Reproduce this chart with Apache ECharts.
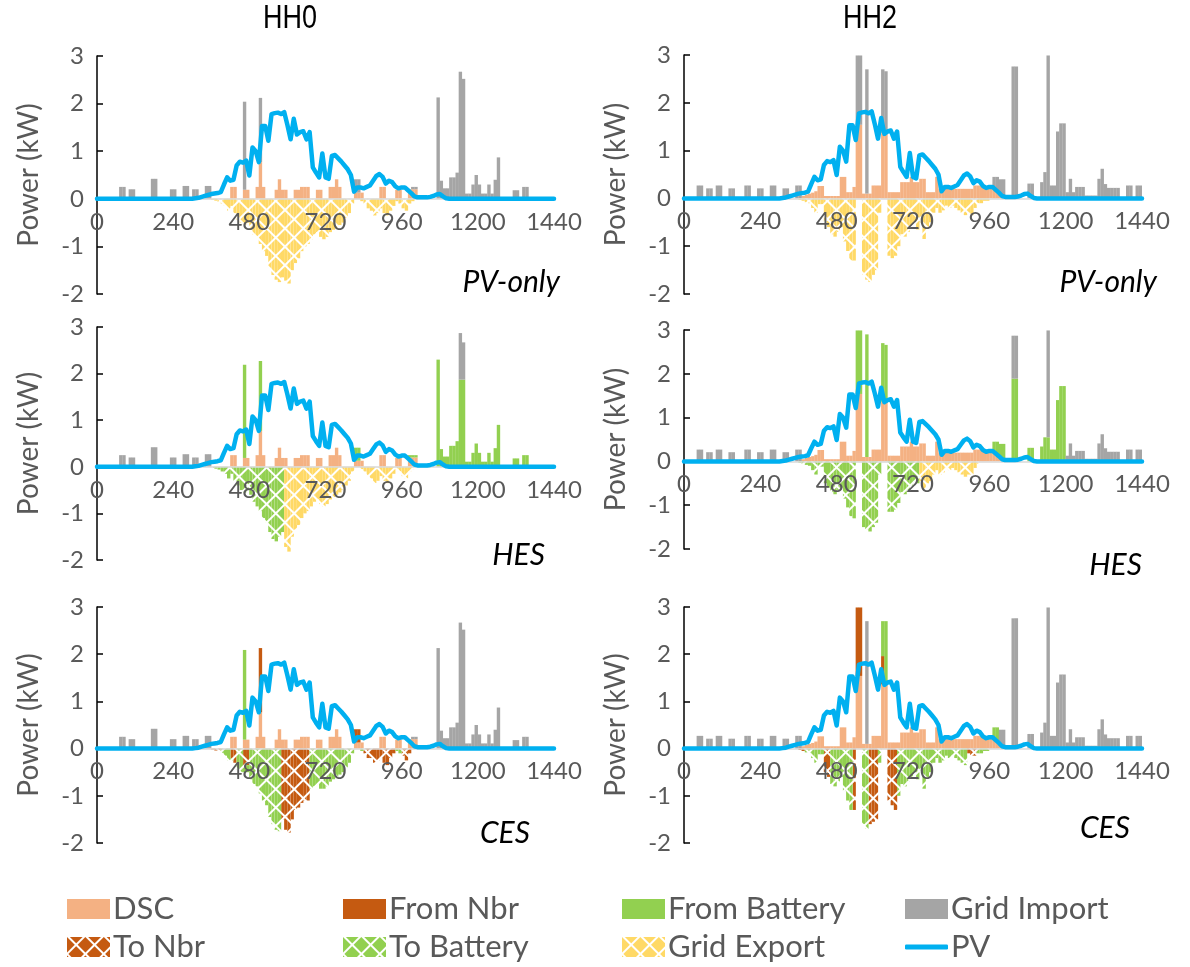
<!DOCTYPE html>
<html>
<head>
<meta charset="utf-8">
<script src="https://cdn.jsdelivr.net/npm/echarts@6/dist/echarts.min.js"></script>
<style>
html,body{margin:0;padding:0;background:#fff;}
#chart{width:1190px;height:967px;}
</style>
</head>
<body>
<div id="chart"></div>
<script>
// ---------------- DATA (minutes of day, kW) ----------------
const COLUMN_TITLES = ['HH0', 'HH2'];
const ROW_TAGS = ['PV-only', 'HES', 'CES'];
const SERIES_NAMES = ['DSC', 'From Nbr', 'From Battery', 'Grid Import', 'To Nbr', 'To Battery', 'Grid Export'];

// PV generation profile [minute, kW]
const PV = [[0,0],[300,0],[310,.01],[320,.02],[330,.04],[340,.06],[350,.08],[360,.10],[370,.11],[380,.12],[390,.14],[400,.30],[410,.45],[420,.38],[430,.40],[440,.70],[450,.78],[460,.76],[470,.80],[480,.49],[490,1.08],[500,1.0],[510,.77],[520,1.53],[530,1.53],[540,1.22],[550,1.78],[560,1.80],[570,1.81],[580,1.78],[590,1.82],[600,1.55],[610,1.25],[620,1.68],[630,1.35],[640,1.40],[650,1.42],[660,1.25],[670,1.40],[680,.66],[690,.55],[700,.45],[710,.95],[720,.45],[730,.42],[740,.90],[750,.92],[760,.85],[770,.78],[780,.70],[790,.62],[800,.50],[810,.15],[820,.24],[830,.24],[840,.22],[850,.25],[860,.28],[870,.38],[880,.48],[890,.52],[900,.46],[910,.32],[920,.38],[930,.35],[940,.26],[950,.22],[960,.24],[970,.24],[980,.18],[990,.12],[1000,.05],[1010,.03],[1020,.03],[1030,.03],[1040,.03],[1050,.04],[1060,.06],[1070,.09],[1080,.10],[1090,.05],[1100,.01],[1110,0],[1440,0]];

// Bars: [start minute of 10-min interval, kW]
// ---- HH0 ----
const HH0_DSC = [[420,.25],[430,.25],[460,.19],[470,.19],[500,.25],[510,.77],[520,.25],[560,.19],[570,.41],[580,.19],[590,.19],[620,.19],[630,.19],[640,.25],[650,.25],[660,.25],[690,.19],[700,.19],[730,.25],[740,.25],[750,.41],[760,.25],[810,.13],[820,.13],[830,.13],[890,.25],[900,.25],[940,.19],[950,.19],[980,.2],[990,.2],[1000,.2]];
const HH0_IMP_AM = [[70,.25],[80,.25],[100,.2],[110,.2],[170,.42],[180,.42],[230,.2],[240,.2],[270,.27],[280,.27],[300,.2],[310,.2],[340,.27],[350,.27]];
const HH0_IMP_PM = [[1070,2.13],[1080,.38],[1090,.22],[1100,.22],[1110,.45],[1120,.45],[1130,.55],[1140,2.67],[1150,2.52],[1160,.11],[1170,.11],[1180,.3],[1190,.5],[1200,.3],[1210,.11],[1220,.11],[1230,.3],[1240,.11],[1250,.4],[1260,.87],[1310,.18],[1320,.18],[1340,.25],[1350,.25]];
const HH0_IMP_MID = [[460,1.85],[510,1.35],[810,.28],[820,.28],[990,.05],[1000,.05]];
const HH0_EXP_PV = [[360,-.02],[370,-.04],[380,-.06],[390,-.1],[400,-.15],[410,-.25],[420,-.15],[430,-.3],[440,-.45],[450,-.5],[460,-.55],[470,-.5],[480,-.65],[490,-.75],[500,-.8],[510,-.95],[520,-1.1],[530,-1.2],[540,-1.45],[550,-1.6],[560,-1.7],[570,-1.75],[580,-1.65],[590,-1.72],[600,-1.78],[610,-1.5],[620,-1.35],[630,-1.25],[640,-1.1],[650,-1.0],[660,-.95],[670,-.85],[680,-.75],[690,-.7],[700,-.8],[710,-.85],[720,-.8],[730,-.7],[740,-.65],[750,-.6],[760,-.55],[770,-.5],[780,-.4],[790,-.3],[800,-.1],[830,-.05],[840,-.1],[850,-.2],[860,-.25],[870,-.35],[880,-.3],[890,-.2],[900,-.3],[910,-.35],[920,-.25],[930,-.15],[940,-.05],[950,-.1],[960,-.2],[970,-.25],[980,-.1],[990,-.05]];
const HH0_FB_HES = [[460,2.0],[510,1.5],[810,.28],[820,.28],[980,.05],[990,.05],[1000,.05],[1070,2.3],[1080,.38],[1090,.22],[1100,.22],[1110,.45],[1120,.45],[1130,.55],[1140,1.87],[1150,1.87],[1160,.11],[1170,.11],[1180,.3],[1190,.5],[1200,.3],[1210,.11],[1220,.11],[1230,.3],[1240,.11],[1250,.4],[1260,.9],[1310,.18],[1320,.18],[1340,.25],[1350,.25]];
const HH0_IMP_HES_PM = [[1140,1.0],[1150,.8]];
const HH0_TB_HES = [[360,-.02],[370,-.04],[380,-.06],[390,-.1],[400,-.15],[410,-.25],[420,-.15],[430,-.3],[440,-.4],[450,-.5],[460,-.55],[470,-.5],[480,-.6],[490,-.75],[500,-.85],[510,-.95],[520,-1.1],[530,-1.2],[540,-1.4],[550,-1.55],[560,-1.6],[570,-1.5],[580,-1.4]];
const HH0_EXP_HES = [[590,-1.72],[600,-1.82],[610,-1.5],[620,-1.35],[630,-1.25],[640,-1.1],[650,-1.0],[660,-.95],[670,-.85],[680,-.75],[690,-.7],[700,-.8],[710,-.85],[720,-.8],[730,-.7],[740,-.65],[750,-.6],[760,-.55],[770,-.5],[780,-.4],[790,-.3],[800,-.1],[830,-.05],[840,-.1],[850,-.2],[860,-.25],[870,-.35],[880,-.3],[890,-.2],[900,-.3],[910,-.35],[920,-.25],[930,-.15],[940,-.05],[950,-.1],[960,-.2],[970,-.25],[980,-.1],[990,-.05]];
const HH0_FN_CES = [[510,1.36],[810,.28],[820,.28]];
const HH0_FB_CES = [[460,1.9]];
const HH0_IMP_CES_MID = [[990,.05],[1000,.05]];
const HH0_TN_CES = [[360,-.02],[370,-.04],[380,-.04],[420,-.2],[430,-.3],[460,-.4],[470,-.35],[580,-1.5],[590,-1.72],[600,-1.78],[610,-1.5],[620,-1.3],[630,-1.25],[640,-1.15],[650,-1.1],[660,-1.1],[840,-.1],[850,-.2],[860,-.2],[870,-.3],[880,-.25],[890,-.2],[900,-.3],[910,-.35],[920,-.2],[930,-.1],[960,-.15],[970,-.25],[980,-.1]];
const HH0_TB_CES = [[390,-.1],[400,-.15],[410,-.25],[420,-.05],[440,-.45],[450,-.5],[460,-.1],[470,-.15],[480,-.65],[490,-.75],[500,-.8],[510,-.95],[520,-1.1],[530,-1.2],[540,-1.45],[550,-1.6],[560,-1.72],[570,-1.75],[670,-.85],[680,-.8],[690,-.75],[700,-.85],[710,-.85],[720,-.8],[730,-.7],[740,-.65],[750,-.6],[760,-.55],[770,-.5],[780,-.4],[790,-.3],[800,-.1],[830,-.05],[940,-.05],[950,-.1]];

// ---- HH2 ----
const HH2_DSC = [[370,.05],[380,.08],[390,.1],[400,.12],[410,.15],[420,.26],[430,.26],[440,.05],[450,.05],[460,.05],[470,.05],[480,.05],[490,.45],[500,.45],[510,.13],[520,.13],[530,.24],[540,1.54],[550,1.54],[560,.1],[570,.1],[580,.1],[590,.27],[600,.27],[610,.27],[620,1.36],[630,1.36],[640,.13],[650,.13],[660,.13],[670,.13],[680,.34],[690,.34],[700,.34],[710,.45],[720,.34],[730,.34],[740,.41],[750,.41],[760,.13],[770,.13],[780,.13],[790,.45],[800,.2],[810,.2],[820,.2],[830,.2],[840,.2],[850,.2],[860,.2],[870,.2],[880,.2],[890,.2],[900,.2],[910,.27],[920,.27],[930,.27],[940,.25],[950,.25],[960,.22],[970,.2],[980,.15],[990,.1]];
const HH2_IMP_AM = [[40,.27],[50,.27],[70,.21],[80,.21],[100,.27],[110,.27],[140,.21],[150,.21],[190,.27],[200,.27],[230,.21],[240,.21],[270,.27],[280,.27],[310,.21],[320,.21],[350,.27],[360,.27]];
const HH2_IMP_EVE = [[1080,.31],[1090,.31],[1120,.34],[1130,.55],[1140,2.99],[1150,.27],[1160,.27],[1170,1.4],[1180,1.57],[1190,1.57]];
const HH2_IMP_LATE = [[1200,.13],[1210,.41],[1220,.13],[1230,.24],[1240,.24],[1250,.24],[1260,.06],[1270,.06],[1280,.06],[1290,.06],[1300,.41],[1310,.62],[1320,.3],[1330,.22],[1340,.22],[1350,.22],[1360,.22],[1390,.27],[1400,.27],[1420,.27],[1430,.27]];
const HH2_IMP_PV_MID = [[540,1.45],[550,1.45],[570,2.6],[620,1.34],[630,1.3],[970,.25],[980,.3],[990,.3],[1000,.4],[1030,2.76],[1040,2.76]];
const HH2_EXP_PV = [[360,-.03],[370,-.05],[380,-.08],[390,-.1],[400,-.2],[410,-.3],[420,-.12],[430,-.12],[440,-.5],[450,-.6],[460,-.75],[470,-.8],[480,-.7],[490,-.6],[500,-.9],[510,-1.1],[520,-1.3],[530,-1.3],[560,-1.6],[570,-1.7],[580,-1.75],[590,-1.6],[600,-1.5],[610,-.3],[640,-1.2],[650,-1.25],[660,-1.2],[670,-1.0],[680,-.75],[690,-.8],[700,-.7],[710,-.6],[720,-.5],[730,-.65],[740,-.5],[750,-.85],[760,-.6],[770,-.5],[780,-.3],[790,-.2],[800,-.3],[810,-.25],[820,-.15],[830,-.2],[840,-.15],[850,-.2],[860,-.25],[870,-.3],[880,-.35],[890,-.3],[900,-.35],[910,-.2],[920,-.1],[930,-.1],[940,-.05],[950,-.05],[960,-.02]];
const HH2_FB_HES = [[540,1.45],[550,1.45],[570,2.8],[620,1.34],[630,1.3],[970,.25],[980,.3],[990,.3],[1000,.4],[1030,1.89],[1040,1.89],[1080,.31],[1090,.31],[1120,.34],[1130,.55],[1140,.55],[1150,.27],[1160,.27],[1170,1.4],[1180,1.72],[1190,1.72]];
const HH2_IMP_HES_MID = [[1030,.98],[1040,.98],[1140,2.44]];
const HH2_TB_HES = [[360,-.03],[370,-.05],[380,-.08],[390,-.1],[400,-.2],[410,-.3],[420,-.12],[430,-.12],[440,-.5],[450,-.6],[460,-.7],[470,-.75],[480,-.65],[490,-.6],[500,-.85],[510,-1.05],[520,-1.25],[530,-1.3],[560,-1.5],[570,-1.55],[580,-1.6],[590,-1.5],[600,-1.4],[610,-.3],[640,-1.15],[650,-1.15],[660,-1.1],[670,-.95],[680,-.7],[690,-.75],[700,-.65],[710,-.55],[720,-.45],[730,-.5]];
const HH2_EXP_HES = [[740,-.45],[750,-.65],[760,-.5],[770,-.45],[780,-.3],[790,-.2],[800,-.3],[810,-.25],[820,-.15],[830,-.2],[840,-.15],[850,-.2],[860,-.25],[870,-.3],[880,-.35],[890,-.3],[900,-.3],[910,-.15],[920,-.05]];
const HH2_FN_CES = [[540,1.45],[550,1.45],[620,.6]];
const HH2_FB_CES = [[620,.74],[630,1.34],[970,.25],[980,.3]];
const HH2_IMP_CES_MID = [[570,2.6],[990,.3],[1000,.4],[1030,2.76],[1040,2.76]];
const HH2_TN_CES = [[360,-.03],[370,-.05],[440,-.5],[450,-.6],[530,-1.3],[580,-1.6],[590,-1.55],[600,-1.5],[640,-1.1],[650,-1.2],[660,-1.3],[890,-.1],[900,-.15],[910,-.15]];
const HH2_TB_CES = [[380,-.08],[390,-.1],[400,-.2],[410,-.3],[420,-.12],[430,-.12],[460,-.75],[470,-.8],[480,-.7],[490,-.6],[500,-.9],[510,-1.1],[520,-1.3],[560,-1.6],[570,-1.7],[610,-.3],[670,-1.0],[680,-.75],[690,-.8],[700,-.7],[710,-.6],[720,-.5],[730,-.65],[740,-.5],[750,-.85],[760,-.6],[770,-.5],[780,-.3],[790,-.2],[800,-.3],[810,-.25],[820,-.15],[830,-.2],[840,-.15],[850,-.2],[860,-.25],[870,-.3],[880,-.35],[920,-.1],[930,-.1],[940,-.05],[950,-.05]];

// ---------------- PANELS ----------------
const PANELS = [
  {col:0,row:0,s:{'DSC':HH0_DSC,'Grid Import':[...HH0_IMP_AM,...HH0_IMP_MID,...HH0_IMP_PM],'Grid Export':HH0_EXP_PV}},
  {col:1,row:0,s:{'DSC':HH2_DSC,'Grid Import':[...HH2_IMP_AM,...HH2_IMP_PV_MID,...HH2_IMP_EVE,...HH2_IMP_LATE],'Grid Export':HH2_EXP_PV}},
  {col:0,row:1,s:{'DSC':HH0_DSC,'From Battery':HH0_FB_HES,'Grid Import':[...HH0_IMP_AM,...HH0_IMP_HES_PM],'To Battery':HH0_TB_HES,'Grid Export':HH0_EXP_HES}},
  {col:1,row:1,s:{'DSC':HH2_DSC,'From Battery':HH2_FB_HES,'Grid Import':[...HH2_IMP_AM,...HH2_IMP_HES_MID,...HH2_IMP_LATE],'To Battery':HH2_TB_HES,'Grid Export':HH2_EXP_HES}},
  {col:0,row:2,s:{'DSC':HH0_DSC,'From Nbr':HH0_FN_CES,'From Battery':HH0_FB_CES,'Grid Import':[...HH0_IMP_AM,...HH0_IMP_CES_MID,...HH0_IMP_PM],'To Nbr':HH0_TN_CES,'To Battery':HH0_TB_CES}},
  {col:1,row:2,s:{'DSC':HH2_DSC,'From Nbr':HH2_FN_CES,'From Battery':HH2_FB_CES,'Grid Import':[...HH2_IMP_AM,...HH2_IMP_CES_MID,...HH2_IMP_EVE,...HH2_IMP_LATE],'To Nbr':HH2_TN_CES,'To Battery':HH2_TB_CES}}
];

// ---------------- LAYOUT / STYLE ----------------
const STEP = 10, NBIN = 144, YMIN = -2, YMAX = 3;
const BINS = Array.from({length:NBIN}, (_, i) => String(i*STEP));   // 10-minute bins 0..1430
const COL_X = [{left:97,width:457},{left:684,width:458}];
const ROW_Y = [[{top:56,height:238},{top:55,height:239}],
               [{top:327,height:233},{top:330,height:219}],
               [{top:607,height:236},{top:607,height:236}]];
const TAG_POS = [[[560,282],[1157,282]],[[545,555],[1142,565]],[[530,833],[1130,828]]];
const FONT = 'Lato, "Open Sans", sans-serif';
const GREY_TXT = '#595959';

function hatch(c){
  return {color:'#ffffff', decal:{symbol:'rect', symbolSize:1, color:c,
    dashArrayX:[[11,1.5]], dashArrayY:[11,1.5], rotation:Math.PI/4}};
}
const STYLE = {
  'DSC':{color:'#F4B183'},
  'From Nbr':{color:'#C55A11'},
  'From Battery':{color:'#92D050'},
  'Grid Import':{color:'#A5A5A5'},
  'To Nbr':hatch('#C55A11'),
  'To Battery':hatch('#92D050'),
  'Grid Export':hatch('#FFD966')
};

function dense(pairs){
  const a = new Array(NBIN).fill(0);
  pairs.forEach(([t,v]) => { a[Math.round(t/STEP)] = v; });
  return a;
}

const grids=[], xAxes=[], yAxes=[], series=[], graphics=[];
PANELS.forEach((p,k) => {
  const gx = COL_X[p.col], gy = ROW_Y[p.row][p.col];
  grids.push({left:gx.left, width:gx.width, top:gy.top, height:gy.height, containLabel:false});
  // value axis (minutes) carrying the labels, drawn through y = 0
  xAxes.push({type:'value', gridIndex:k, min:0, max:1440, interval:240, position:'bottom',
    offset: -gy.height * (0 - YMIN) / (YMAX - YMIN), z:6,
    axisLine:{onZero:false, lineStyle:{color:'#D9D9D9', width:1.5}},
    axisTick:{show:false}, splitLine:{show:false},
    axisLabel:{color:GREY_TXT, fontSize:24, fontFamily:FONT, margin:11,
      formatter: v => String(v), showMinLabel:true, showMaxLabel:true}});
  // hidden category axis of 10-minute bins for the stacked bars
  xAxes.push({type:'category', gridIndex:k, data:BINS, boundaryGap:true, show:false});
  yAxes.push({type:'value', gridIndex:k, min:YMIN, max:YMAX, interval:1, z:6,
    name:'Power (kW)', nameLocation:'middle', nameGap:54, nameRotate:90,
    nameTextStyle:{color:GREY_TXT, fontSize:28, fontFamily:FONT},
    axisLine:{show:true, onZero:false, lineStyle:{color:'#000', width:1.5}},
    axisTick:{show:true, inside:true, length:6, lineStyle:{color:'#000', width:1.5}},
    splitLine:{show:false},
    axisLabel:{color:GREY_TXT, fontSize:24, fontFamily:FONT, margin:13}});
  SERIES_NAMES.forEach(n => {
    if (!p.s[n]) return;
    series.push({type:'bar', name:n, xAxisIndex:2*k+1, yAxisIndex:k, stack:'s'+k,
      barWidth:3.4, itemStyle:STYLE[n], data:dense(p.s[n]), clip:true, z:2});
  });
  series.push({type:'line', name:'PV', xAxisIndex:2*k, yAxisIndex:k, data:PV,
    showSymbol:false, symbol:'none', color:'#00B0F0',
    lineStyle:{color:'#00B0F0', width:4.5, cap:'round', join:'round'}, z:7});
  const tp = TAG_POS[p.row][p.col];
  graphics.push({type:'text', x:tp[0], y:tp[1], style:{text:ROW_TAGS[p.row], fontSize:30, fontStyle:'italic',
    fontFamily:FONT, fill:'#000', textAlign:'right', textVerticalAlign:'middle'}});
});
[[290, 0], [870, 1]].forEach(([x, c]) => {
  graphics.push({type:'text', x:x, y:19, scaleY:1.2, style:{text:COLUMN_TITLES[c], fontSize:27,
    fontFamily:'"Liberation Sans", Arial, sans-serif', fill:'#000', textAlign:'center', textVerticalAlign:'middle'}});
});

const LEG_COLS = [62, 338, 617, 900];
const LEG_ROWS = [904, 942];
const LEG_ITEMS = [['DSC',0,0],['From Nbr',1,0],['From Battery',2,0],['Grid Import',3,0],
                   ['To Nbr',0,1],['To Battery',1,1],['Grid Export',2,1],['PV',3,1]];
const legends = LEG_ITEMS.map(([n,c,r]) => ({
  data:[n], left:LEG_COLS[c], top:LEG_ROWS[r]-18, itemWidth:43, itemHeight: n==='PV'?5:20,
  icon: n==='PV' ? 'roundRect' : 'rect', itemGap:0, selectedMode:false,
  textStyle:{color:GREY_TXT, fontSize:31, fontFamily:FONT, padding:[0,0,0,-2], lineHeight:36}
}));

const chart = echarts.init(document.getElementById('chart'), null, {renderer:'canvas'});
chart.setOption({
  animation:false,
  backgroundColor:'#fff',
  grid:grids, xAxis:xAxes, yAxis:yAxes, series:series,
  legend:legends, graphic:graphics
});
</script>
</body>
</html>
